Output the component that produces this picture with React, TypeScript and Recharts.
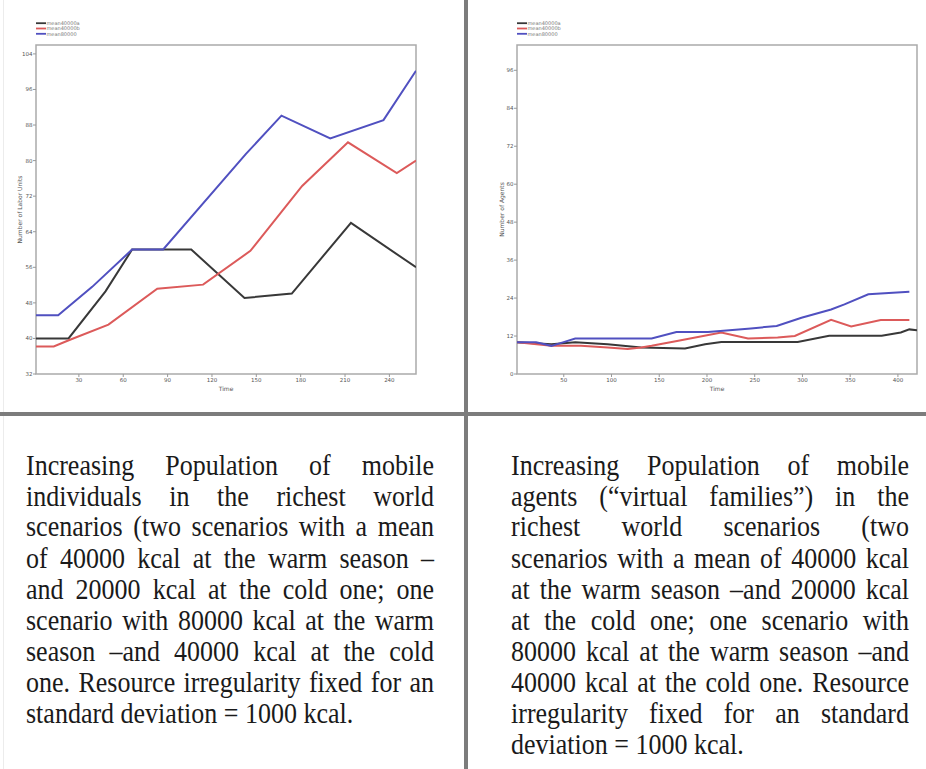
import { Legend, Line, LineChart, ReferenceArea, XAxis, YAxis } from "recharts"

// Labor units per scenario (left panel)
const laborTime40a = [1, 23, 48, 66, 106, 142, 174, 214, 258]
const labor40a = [40, 40, 50.6, 60, 60, 49.1, 50.1, 66, 56]
const laborTime40b = [1, 13, 24, 50, 83, 114, 146, 181, 212, 245, 258]
const labor40b = [38.2, 38.2, 39.7, 43.1, 51.2, 52.1, 59.7, 74.3, 84.1, 77.2, 80]
const laborTime80 = [1, 16, 39, 66, 87, 143, 167, 200, 236, 258]
const labor80 = [45.2, 45.2, 51.6, 60, 60, 81.5, 90.1, 85, 89.1, 100.2]

// Agents per scenario (right panel)
const agentTime40a = [1, 37, 62, 96, 131, 177, 198, 215, 295, 328, 383, 403, 412, 420]
const agents40a = [10, 9.4, 10, 9.4, 8.4, 8.1, 9.4, 10.1, 10.1, 12.1, 12.1, 13.1, 14.1, 13.8]
const agentTime40b = [1, 37, 68, 96, 117, 131, 142, 170, 215, 243, 274, 292, 330, 351, 382, 412]
const agents40b = [10, 8.9, 8.9, 8.4, 7.9, 8.4, 8.9, 10.5, 13.1, 11.2, 11.5, 12, 17.1, 15, 17.1, 17.1]
const agentTime80 = [1, 21, 37, 49, 62, 142, 168, 201, 246, 273, 299, 330, 344, 369, 412]
const agents80 = [10, 10, 8.9, 10, 11.2, 11.2, 13.3, 13.3, 14.4, 15.2, 17.8, 20.4, 22, 25.2, 26]

const seriesNames = ["mean40000a", "mean40000b", "mean80000"]
const seriesColors = ["#383838", "#dc5a5a", "#5050c0"]

const laborTicksX = [30, 60, 90, 120, 150, 180, 210, 240]
const laborTicksY = [32, 40, 48, 56, 64, 72, 80, 88, 96, 104]
const agentTicksX = [50, 100, 150, 200, 250, 300, 350, 400]
const agentTicksY = [0, 12, 24, 36, 48, 60, 72, 84, 96]

const leftText = [
  "Increasing Population of mobile",
  "individuals in the richest world",
  "scenarios (two scenarios with a mean",
  "of 40000 kcal  at the warm season \u2013",
  "and 20000 kcal at the cold one; one",
  "scenario with 80000 kcal at the warm",
  "season \u2013and 40000 kcal at the cold",
  "one. Resource irregularity fixed for an",
  "standard deviation = 1000 kcal.",
]

const rightText = [
  "Increasing Population of mobile",
  "agents (\u201cvirtual families\u201d) in the",
  "richest world scenarios (two",
  "scenarios with a mean of 40000 kcal",
  "at the warm season \u2013and 20000 kcal",
  "at the cold one; one scenario with",
  "80000 kcal at the warm season \u2013and",
  "40000 kcal at the cold one. Resource",
  "irregularity fixed for an standard",
  "deviation = 1000 kcal.",
]

const toPoints = (t: number[], v: number[]) => t.map((x, i) => ({ t: x, v: v[i] }))

const laborSeries = [
  toPoints(laborTime40a, labor40a),
  toPoints(laborTime40b, labor40b),
  toPoints(laborTime80, labor80),
]
const agentSeries = [
  toPoints(agentTime40a, agents40a),
  toPoints(agentTime40b, agents40b),
  toPoints(agentTime80, agents80),
]

const axisFont = "'DejaVu Sans', sans-serif"
const tickStyle = { fontSize: 5.5, fill: "#555", fontFamily: axisFont }

function SmallLegend(props: any) {
  const payload = props.payload || []
  return (
    <svg width={60} height={18}>
      {payload.map((p: any, i: number) => (
        <g key={p.value}>
          <line x1={0} x2={10} y1={2.2 + i * 5.3} y2={2.2 + i * 5.3} stroke={p.color} strokeWidth={1.8} />
          <text x={10.5} y={4 + i * 5.3} fontSize={5} fill="#777" fontFamily={axisFont}>
            {p.value}
          </text>
        </g>
      ))}
    </svg>
  )
}

type PanelProps = {
  data: { t: number; v: number }[][]
  xDomain: [number, number]
  yDomain: [number, number]
  xTicks: number[]
  yTicks: number[]
  yLabel: string
  marginLeft: number
  axisWidth: number
  marginRight: number
  legendLeft: number
}

function Panel(p: PanelProps) {
  return (
    <LineChart
      width={460}
      height={410}
      margin={{ top: 45, right: p.marginRight, bottom: 6, left: p.marginLeft }}
    >
      <XAxis
        type="number"
        dataKey="t"
        domain={p.xDomain}
        ticks={p.xTicks}
        allowDataOverflow
        axisLine={false}
        tickSize={3}
        tickMargin={1}
        tickLine={{ stroke: "#999" }}
        tick={tickStyle}
        height={30}
        label={{ value: "Time", position: "center", fontSize: 6, fill: "#555", fontFamily: axisFont }}
      />
      <YAxis
        type="number"
        domain={p.yDomain}
        ticks={p.yTicks}
        allowDataOverflow
        axisLine={false}
        tickSize={3}
        tickMargin={0.5}
        tickLine={{ stroke: "#999" }}
        tick={tickStyle}
        width={p.axisWidth}
        label={{ value: p.yLabel, angle: -90, position: "center", fontSize: 6, fill: "#555", fontFamily: axisFont }}
      />
      <ReferenceArea
        x1={p.xDomain[0]}
        x2={p.xDomain[1]}
        y1={p.yDomain[0]}
        y2={p.yDomain[1]}
        fill="none"
        stroke="#aaa"
        strokeWidth={1.5}
      />
      <Legend
        layout="horizontal"
        verticalAlign="middle"
        align="center"
        content={SmallLegend}
        wrapperStyle={{ top: 20.5, left: p.legendLeft, width: "auto" }}
      />
      {p.data.map((pts, i) => (
        <Line
          key={seriesNames[i]}
          data={pts}
          dataKey="v"
          name={seriesNames[i]}
          stroke={seriesColors[i]}
          strokeWidth={2}
          dot={false}
          activeDot={false}
          type="linear"
          isAnimationActive={false}
        />
      ))}
    </LineChart>
  )
}

function TextBlock({ lines, left, width }: { lines: string[]; left: number; width: number }) {
  return (
    <div
      style={{
        position: "absolute",
        left,
        top: 450,
        width,
        fontFamily: "'Liberation Serif', 'Times New Roman', serif",
        fontSize: 26,
        lineHeight: "27.7px",
        color: "#1a1a1a",
        transform: "scaleY(1.12)",
        transformOrigin: "top left",
      }}
    >
      {lines.map((line, i) => (
        <div
          key={i}
          style={{
            textAlign: i === lines.length - 1 ? "left" : "justify",
            textAlignLast: i === lines.length - 1 ? "left" : "justify",
          }}
        >
          {line}
        </div>
      ))}
    </div>
  )
}

export default function App() {
  return (
    <div
      style={{
        position: "absolute",
        left: 0,
        top: 0,
        width: 926,
        height: 769,
        background: "#fff",
        overflow: "hidden",
      }}
    >
      <div style={{ position: "absolute", left: 0, top: 0 }}>
        <Panel
          data={laborSeries}
          xDomain={[1, 258]}
          yDomain={[32, 106]}
          xTicks={laborTicksX}
          yTicks={laborTicksY}
          yLabel="Number of Labor Units"
          marginLeft={4}
          axisWidth={32}
          marginRight={44}
          legendLeft={36}
        />
      </div>
      <div style={{ position: "absolute", left: 466, top: 0 }}>
        <Panel
          data={agentSeries}
          xDomain={[1, 420]}
          yDomain={[0, 104]}
          xTicks={agentTicksX}
          yTicks={agentTicksY}
          yLabel="Number of Agents"
          marginLeft={21}
          axisWidth={30}
          marginRight={9}
          legendLeft={51}
        />
      </div>

      {/* table rules */}
      <div style={{ position: "absolute", left: 3, top: 0, width: 1, height: 769, background: "#ececec" }} />
      <div style={{ position: "absolute", left: 0, top: 412, width: 926, height: 4, background: "#7c7c7c" }} />
      <div style={{ position: "absolute", left: 464, top: 0, width: 4, height: 769, background: "#7c7c7c" }} />

      <TextBlock lines={leftText} left={26} width={408} />
      <TextBlock lines={rightText} left={511} width={398} />
    </div>
  )
}
